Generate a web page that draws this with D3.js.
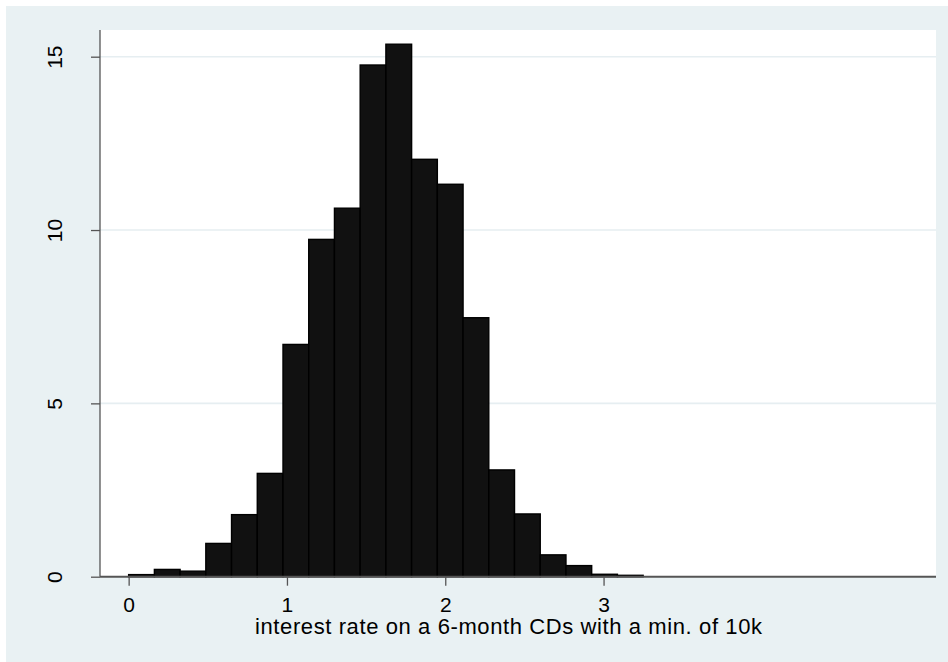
<!DOCTYPE html>
<html>
<head>
<meta charset="utf-8">
<script src="https://cdn.jsdelivr.net/npm/d3@7"></script>
<style>
  html, body { margin: 0; padding: 0; background: #ffffff; }
  svg { display: block; }
  text { font-family: "Liberation Sans", Arial, sans-serif; fill: #000; }
</style>
</head>
<body>
<svg id="chart" width="948" height="662"></svg>
<script>
// ---- data ----
const binEdges = [0, 0.1625, 0.325, 0.4875, 0.65, 0.8125, 0.975, 1.1375, 1.3, 1.4625, 1.625,
                  1.7875, 1.95, 2.1125, 2.275, 2.4375, 2.6, 2.7625, 2.925, 3.0875, 3.25];
const densities = [0.06, 0.21, 0.16, 0.96, 1.79, 2.98, 6.70, 9.73, 10.63, 14.76, 15.36,
                   12.04, 11.32, 7.47, 3.08, 1.81, 0.63, 0.32, 0.07, 0.04];
const xTicks = [0, 1, 2, 3];
const yTicks = [0, 5, 10, 15];
const xTitle = "interest rate on a 6-month CDs with a min. of 10k";

const bins = densities.map((d, i) => ({ x0: binEdges[i], x1: binEdges[i + 1], v: d }));

// ---- layout ----
const svg = d3.select("#chart");
const W = 948, H = 662;
const plot = { left: 100, right: 936, top: 30, bottom: 576.7 };
const FONT = "'Liberation Sans', Arial, sans-serif";

svg.append("rect").attr("x", 6).attr("y", 6).attr("width", W - 6).attr("height", H - 6)
  .attr("fill", "#e9f1f3");
svg.append("rect").attr("x", plot.left).attr("y", plot.top)
  .attr("width", plot.right - plot.left).attr("height", plot.bottom - plot.top)
  .attr("fill", "#ffffff");

const x = d3.scaleLinear().domain([-0.181, 5.10]).range([plot.left, plot.right]);
const y = d3.scaleLinear().domain([0, 15.77]).range([plot.bottom, plot.top]);

// gridlines
svg.append("g").selectAll("line").data(yTicks.filter(t => t > 0)).join("line")
  .attr("x1", plot.left).attr("x2", plot.right)
  .attr("y1", d => y(d)).attr("y2", d => y(d))
  .attr("stroke", "#e6eef1").attr("stroke-width", 1.6);

// bars
svg.append("g").selectAll("rect").data(bins).join("rect")
  .attr("x", d => x(d.x0))
  .attr("y", d => y(d.v))
  .attr("width", d => x(d.x1) - x(d.x0))
  .attr("height", d => y(0) - y(d.v))
  .attr("fill", "#111111")
  .attr("stroke", "#000000")
  .attr("stroke-width", 1.4);

// y axis
const yAxis = d3.axisLeft(y).tickValues(yTicks).tickSize(9).tickFormat(d3.format("d"));
const gy = svg.append("g").attr("transform", `translate(${plot.left},0)`).call(yAxis);
gy.select(".domain").attr("d", `M0,${plot.top}V${plot.bottom}`).attr("stroke", "#555").attr("stroke-width", 1.3);
gy.selectAll(".tick line").attr("stroke", "#555").attr("stroke-width", 1.3);
gy.selectAll(".tick text")
  .attr("x", null).attr("dy", null)
  .attr("transform", "translate(-38,0) rotate(-90)")
  .attr("text-anchor", "middle")
  .style("font-size", "21px")
  .style("font-family", FONT)
  .attr("fill", "#000");

// x axis
const xAxis = d3.axisBottom(x).tickValues(xTicks).tickSize(9).tickFormat(d3.format("d"));
const gx = svg.append("g").attr("transform", `translate(0,${plot.bottom})`).call(xAxis);
gx.select(".domain").attr("d", `M${plot.left},0H${plot.right}`).attr("stroke", "#555").attr("stroke-width", 2);
gx.selectAll(".tick line").attr("stroke", "#555").attr("stroke-width", 1.3);
gx.selectAll(".tick text")
  .attr("y", 35).attr("dy", null)
  .style("font-size", "21px")
  .style("font-family", FONT)
  .attr("fill", "#000");

// x title
svg.append("text")
  .attr("x", 255)
  .attr("y", 634)
  .attr("text-anchor", "start")
  .attr("textLength", 507)
  .attr("lengthAdjust", "spacing")
  .style("font-size", "22px")
  .style("font-family", FONT)
  .text(xTitle);
</script>
</body>
</html>
